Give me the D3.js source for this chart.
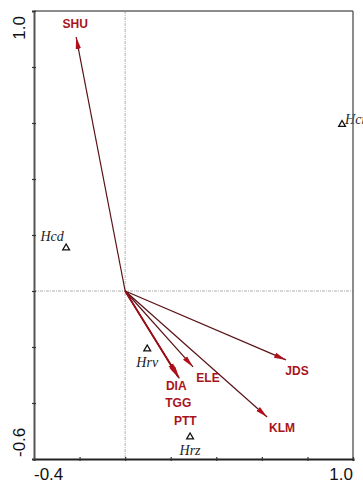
<!DOCTYPE html>
<html><head><meta charset="utf-8">
<script src="https://cdn.jsdelivr.net/npm/d3@7"></script>
<style>body{margin:0;background:#fff}svg{display:block}</style>
</head><body>
<script>
// ---- data ----
const envNames = ["SHU","JDS","KLM","ELE","TGG","PTT","DIA"];
const envX     = [-0.215, 0.706, 0.623, 0.298, 0.228, 0.238, 0.233];
const envY     = [ 0.907,-0.246,-0.450,-0.271,-0.300,-0.312,-0.307];
const spNames  = ["Hcr","Hcd","Hrv","Hrz"];
const spX      = [0.952,-0.259,0.097,0.285];
const spY      = [0.595, 0.154,-0.207,-0.521];
const xTicks   = [-0.4,-0.2,0,0.2,0.4,0.6,0.8,1.0];
const yTicks   = [-0.6,-0.4,-0.2,0,0.2,0.4,0.6,0.8,1.0];
const xTickLabels = ["-0.4","1.0"];
const yTickLabels = ["-0.6","1.0"];

const W=363,H=484;
const svg=d3.select("body").append("svg").attr("width",W).attr("height",H);
const x=d3.scaleLinear().domain([-0.4,1.0]).range([34,353]);
const y=d3.scaleLinear().domain([-0.6,1.0]).range([459,11]);

const defs=svg.append("defs");
defs.append("marker").attr("id","ah").attr("viewBox","0 0 12 6").attr("refX",12).attr("refY",3)
  .attr("markerWidth",12).attr("markerHeight",6).attr("markerUnits","userSpaceOnUse").attr("orient","auto")
  .append("path").attr("d","M0,0.3L12,3L0,5.7Z").attr("fill","#b0101a");

// zero lines
svg.append("line").attr("x1",x(0)).attr("x2",x(0)).attr("y1",y(1.0)).attr("y2",y(-0.6))
  .attr("stroke","#999").attr("stroke-width",0.8).attr("stroke-dasharray","3,1,1,1");
svg.append("line").attr("x1",x(-0.4)).attr("x2",x(1.0)).attr("y1",y(0)).attr("y2",y(0))
  .attr("stroke","#999").attr("stroke-width",0.8).attr("stroke-dasharray","3,1,1,1");

// species triangles and labels
const spOff={Hcr:[3,0,"start"],Hcd:[-14,-7,"middle"],Hrv:[0,18,"middle"],Hrz:[0,18,"middle"]};
const sp=spNames.map((n,i)=>({n,x:spX[i],y:spY[i]}));
svg.selectAll(".sp").data(sp).enter().append("path")
  .attr("d",d3.symbol().type(d3.symbolTriangle).size(20))
  .attr("transform",d=>`translate(${x(d.x)},${y(d.y)})`)
  .attr("fill","none").attr("stroke","#111").attr("stroke-width",1.3);
svg.selectAll(".spl").data(sp).enter().append("text")
  .attr("x",d=>x(d.x)+spOff[d.n][0]).attr("y",d=>y(d.y)+spOff[d.n][1])
  .attr("text-anchor",d=>spOff[d.n][2])
  .attr("font-family","'Liberation Serif','DejaVu Serif',serif").attr("font-style","italic")
  .attr("font-size",14).attr("fill","#222").text(d=>d.n);

// arrows
const env=envNames.map((n,i)=>({n,x:envX[i],y:envY[i]}));
svg.selectAll(".arr").data(env).enter().append("line")
  .attr("x1",x(0)).attr("y1",y(0)).attr("x2",d=>x(d.x)).attr("y2",d=>y(d.y))
  .attr("stroke",d=>d.n==="DIA"?"#9a0d14":"#5a1216")
  .attr("stroke-width",d=>d.n==="DIA"?1.8:1.2)
  .attr("marker-end","url(#ah)");

const envOff={SHU:[-1,-9],JDS:[11,15],KLM:[15,15],ELE:[15,15],DIA:[-2,13]};
const dia=env.find(d=>d.n==="DIA");
const labPos=d=>{
  if(d.n==="TGG") return [x(dia.x)+0,y(dia.y)+30];
  if(d.n==="PTT") return [x(dia.x)+7,y(dia.y)+48];
  return [x(d.x)+envOff[d.n][0],y(d.y)+envOff[d.n][1]];
};
svg.selectAll(".envl").data(env).enter().append("text")
  .attr("x",d=>labPos(d)[0]).attr("y",d=>labPos(d)[1]).attr("text-anchor","middle")
  .attr("font-family","'Liberation Sans',Arial,sans-serif").attr("font-weight","bold")
  .attr("font-size",12).attr("fill","#a8141c").text(d=>d.n);

// frame: top/right
svg.append("line").attr("x1",x(-0.4)).attr("x2",x(1.0)).attr("y1",y(1.0)).attr("y2",y(1.0)).attr("stroke","#666").attr("stroke-width",1.5);
svg.append("line").attr("x1",x(1.0)).attr("x2",x(1.0)).attr("y1",y(1.0)).attr("y2",y(-0.6)).attr("stroke","#666").attr("stroke-width",1.5);

// axes
const gx=svg.append("g").attr("transform",`translate(0,${y(-0.6)})`)
  .call(d3.axisBottom(x).tickValues(xTicks).tickSize(2).tickFormat(""));
const gy=svg.append("g").attr("transform",`translate(${x(-0.4)},0)`)
  .call(d3.axisLeft(y).tickValues(yTicks).tickSize(2).tickFormat(""));
gx.select(".domain").attr("stroke","#222").attr("stroke-width",2);
gy.select(".domain").attr("stroke","#555").attr("stroke-width",2);
gx.selectAll(".tick line").attr("y1",-2).attr("y2",2).attr("stroke","#333").attr("stroke-width",1.2);
gy.selectAll(".tick line").attr("x1",-2).attr("x2",2).attr("stroke","#333").attr("stroke-width",1.2);

// tick labels at ends
const tf="'Liberation Sans',Arial,sans-serif";
svg.append("text").attr("x",x(-0.4)).attr("y",480).attr("text-anchor","start")
  .attr("font-family",tf).attr("font-size",17).attr("fill","#111").text(xTickLabels[0]);
svg.append("text").attr("x",x(1.0)).attr("y",480).attr("text-anchor","end")
  .attr("font-family",tf).attr("font-size",17).attr("fill","#111").text(xTickLabels[1]);
svg.append("text").attr("transform",`translate(25,${y(-0.6)-2}) rotate(-90)`).attr("text-anchor","start")
  .attr("font-family",tf).attr("font-size",17).attr("fill","#111").text(yTickLabels[0]);
svg.append("text").attr("transform",`translate(25,${y(1.0)+5}) rotate(-90)`).attr("text-anchor","end")
  .attr("font-family",tf).attr("font-size",17).attr("fill","#111").text(yTickLabels[1]);
</script>
</body></html>
